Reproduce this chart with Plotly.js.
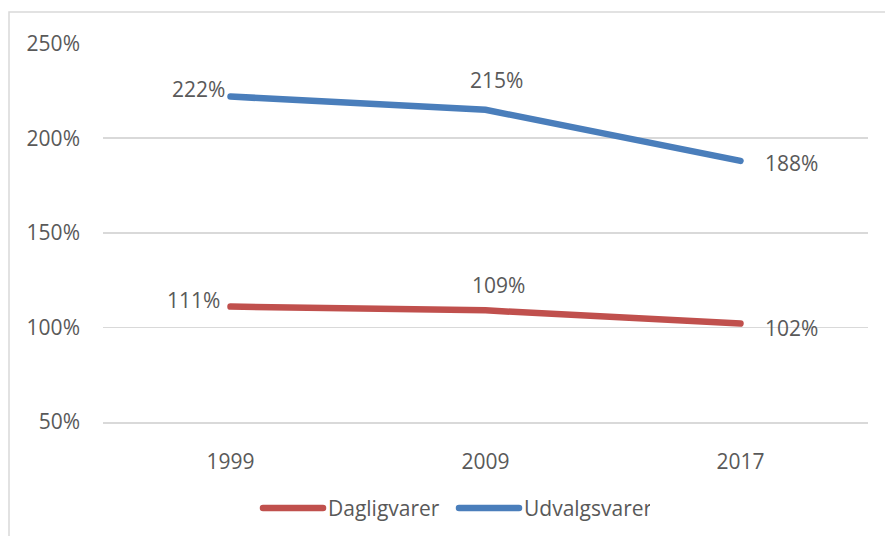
<!DOCTYPE html>
<html>
<head>
<meta charset="utf-8">
<script src="https://cdn.plot.ly/plotly-3.0.1.min.js"></script>
<style>
html,body{margin:0;padding:0;background:#fff;}
#chart{width:885px;height:536px;}
#chart path.js-line{stroke-linecap:round;}
</style>
</head>
<body>
<div id="chart"></div>
<script>
const years = ['1999', '2009', '2017'];
const dagligvarer = [111, 109, 102];
const udvalgsvarer = [222, 215, 188];
const yTicks = [50, 100, 150, 200, 250];
const yTickText = ['50%', '100%', '150%', '200%', '250%'];

const FONT = 'Open Sans, Lato, Liberation Sans, sans-serif';
const TXT = '#595959';
const RED = '#C0504D';
const BLUE = '#4A7EBB';
const FS = 21;

// label placement per point: [xanchor, yanchor, xshift, yshift]
const placeD = [['right','middle',-9,7],['center','bottom',13,9],['left','middle',22,-4]];
const placeU = [['right','middle',-4,8],['center','bottom',11,14],['left','middle',22,-2]];

function labels(vals, place){
  return vals.map((v,i)=>({
    x: i, y: v, xref:'x', yref:'y', text: v + '%', showarrow:false,
    xanchor: place[i][0], yanchor: place[i][1], xshift: place[i][2], yshift: place[i][3],
    font:{family:FONT, size:FS, color:TXT}
  }));
}

const traces = [
  {x: years, y: dagligvarer, name:'Dagligvarer', type:'scatter', mode:'lines',
   line:{color:RED, width:6.5, shape:'linear'}},
  {x: years, y: udvalgsvarer, name:'Udvalgsvarer', type:'scatter', mode:'lines',
   line:{color:BLUE, width:6.5, shape:'linear'}}
];

const layout = {
  width:885, height:536,
  margin:{l:103, r:17, t:43, b:114, autoexpand:false},
  paper_bgcolor:'#fff', plot_bgcolor:'#fff',
  font:{family:FONT, size:FS, color:TXT},
  showlegend:true,
  legend:{orientation:'h', x:(263-5-103)/765, xanchor:'left', y:-0.228, yanchor:'middle',
          font:{family:FONT, size:FS, color:TXT}, itemwidth:60, tracegroupgap:0,
          entrywidth:121, entrywidthmode:'pixels'},
  xaxis:{type:'category', range:[-0.5, 2.5], autorange:false, showgrid:false, zeroline:false,
         showline:true, linecolor:'#D9D9D9', linewidth:1.5,
         ticks:'', tickfont:{family:FONT, size:FS, color:TXT}, ticklabelstandoff:20,
         fixedrange:true},
  yaxis:{range:[50,250.3], autorange:false, tickvals:yTicks, ticktext:yTickText, showgrid:true,
         gridcolor:'#D9D9D9', gridwidth:1.5, zeroline:false, showline:false, ticks:'',
         tickfont:{family:FONT, size:FS, color:TXT}, ticklabelstandoff:22, fixedrange:true},
  annotations: labels(dagligvarer, placeD).concat(labels(udvalgsvarer, placeU)),
  shapes:[{type:'rect', xref:'paper', yref:'paper',
           x0:(9-103)/765, x1:(900-103)/765, y0:(422-560)/379, y1:(422-12)/379,
           line:{color:'#D9D9D9', width:1.5}, fillcolor:'rgba(0,0,0,0)', layer:'below'}]
};

Plotly.newPlot('chart', traces, layout, {displayModeBar:false, staticPlot:true});
</script>
</body>
</html>
